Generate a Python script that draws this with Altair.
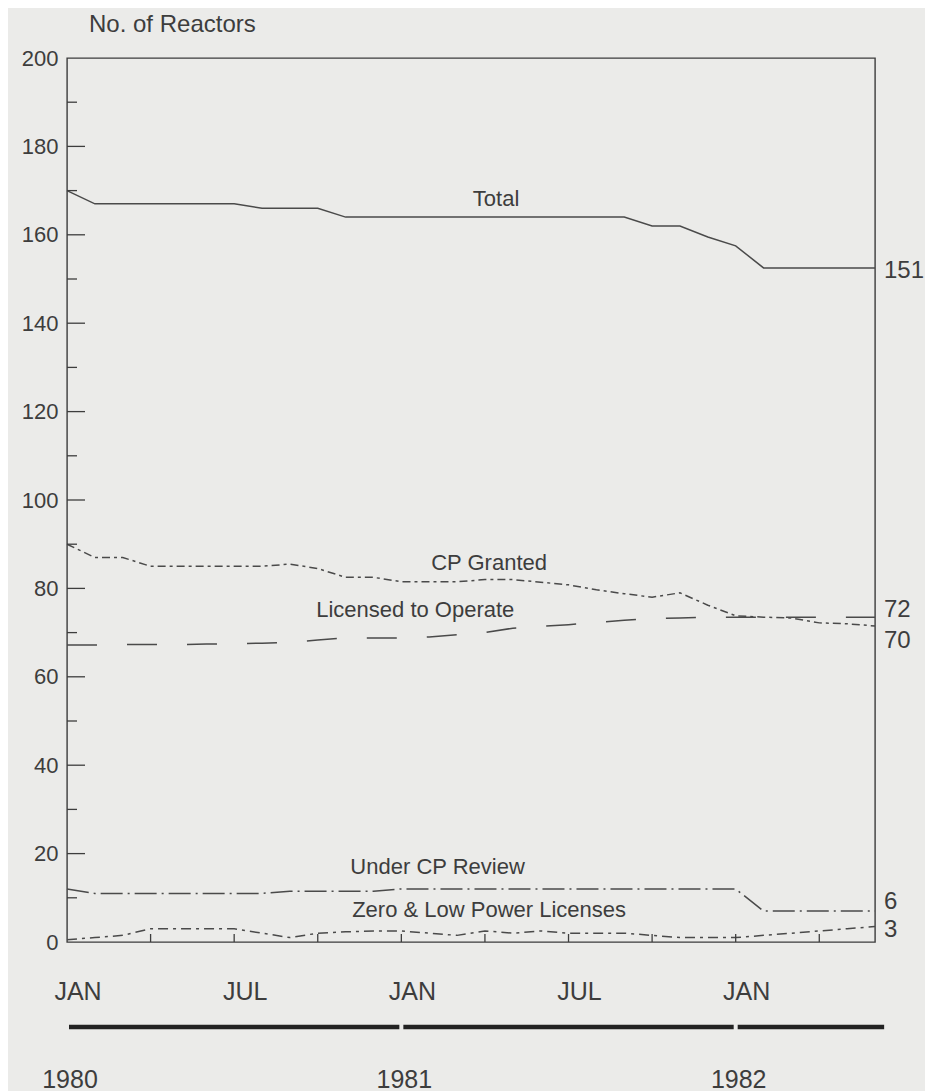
import altair as alt
import pandas as pd

# ---------------- data ----------------
months = list(range(30))  # 0 = Jan 1980 ... 29 = Jun 1982

total = [170, 167, 167, 167, 167, 167, 167, 166, 166, 166,
         164, 164, 164, 164, 164, 164, 164, 164, 164, 164,
         164, 162, 162, 159.5, 157.5, 152.5, 152.5, 152.5, 152.5, 152.5]
cp_granted = [90, 87, 87, 85, 85, 85, 85, 85, 85.5, 84.5,
              82.5, 82.5, 81.5, 81.5, 81.5, 82, 82, 81.4, 80.8, 79.7,
              78.8, 78, 79, 76.2, 73.8, 73.5, 73.3, 72.2, 72, 71.5]
licensed = [67.2, 67.2, 67.3, 67.3, 67.3, 67.4, 67.5, 67.6, 67.8, 68.3,
            68.8, 68.8, 68.8, 69, 69.5, 70, 71, 71.4, 71.8, 72.3,
            72.8, 73.2, 73.3, 73.5, 73.5, 73.5, 73.5, 73.5, 73.5, 73.5]
under_cp = [12, 11, 11, 11, 11, 11, 11, 11, 11.5, 11.5,
            11.5, 11.5, 12, 12, 12, 12, 12, 12, 12, 12,
            12, 12, 12, 12, 12, 7, 7, 7, 7, 7]
zero_low = [0.5, 1, 1.5, 3, 3, 3, 3, 2, 1, 2,
            2.3, 2.5, 2.5, 2, 1.5, 2.5, 2, 2.5, 2, 2,
            2, 1.5, 1, 1, 1, 1.5, 2, 2.5, 3, 3.5]

series_names = ["Total", "CP Granted", "Licensed to Operate",
                "Under CP Review", "Zero & Low Power Licenses"]
series_values = [total, cp_granted, licensed, under_cp, zero_low]

# in-chart series labels: (text, month, value)
label_text = series_names
label_month = [15.4, 15.15, 12.5, 13.3, 15.15]
label_value = [168, 85.7, 75.1, 17, 7.2]

# end-of-series values printed at the right
end_text = ["151", "72", "70", "6", "3"]
end_value = [151, 72, 70, 6, 3]

tick_months = [0, 6, 12, 18, 24]
tick_labels = ["JAN", "JUL", "JAN", "JUL", "JAN"]
quarter_months = [3, 6, 9, 12, 15, 18, 21, 24, 27]

years = ["1980", "1981", "1982"]
year_start = [0, 12, 24]
year_end = [12, 24, 29.4]

y_label_values = list(range(0, 201, 20))
y_minor_values = list(range(10, 200, 20))
y_major_values = list(range(20, 200, 20))

# ---------------- styles ----------------
W, H = 808, 884
FONT = "Liberation Sans"
INK = "#3d3d3d"
LINE = "#4a4a4a"
BG = "#ebebe9"

xs = alt.Scale(domain=[0, 29], nice=False, zero=False)
ys = alt.Scale(domain=[0, 200], nice=False)
y_axis = alt.Axis(values=y_label_values, title=None, ticks=False,
                  domain=False, grid=False, labelFontSize=22,
                  labelFont=FONT, labelColor=INK, labelPadding=9)

dashes = {
    "Total": None,
    "CP Granted": [8, 4, 3, 4],
    "Licensed to Operate": [30, 30],
    "Under CP Review": [22, 5, 2, 5],
    "Zero & Low Power Licenses": [10, 5, 3, 5],
}

layers = []

# series lines
for name, vals in zip(series_names, series_values):
    d = pd.DataFrame({"month": months, "value": vals})
    kw = dict(color=LINE, strokeWidth=1.5)
    if dashes[name]:
        kw["strokeDash"] = dashes[name]
    layers.append(
        alt.Chart(d).mark_line(**kw).encode(
            x=alt.X("month:Q", scale=xs, axis=None),
            y=alt.Y("value:Q", scale=ys, axis=y_axis))
    )

# inward y ticks (major / minor)
maj = pd.DataFrame({"value": y_major_values})
mnr = pd.DataFrame({"value": y_minor_values})
layers.append(alt.Chart(maj).mark_rule(color=INK, strokeWidth=1.3).encode(
    x=alt.value(0), x2=alt.value(18), y=alt.Y("value:Q", scale=ys, axis=y_axis)))
layers.append(alt.Chart(mnr).mark_rule(color=INK, strokeWidth=1.3).encode(
    x=alt.value(0), x2=alt.value(10), y=alt.Y("value:Q", scale=ys, axis=y_axis)))

# inward quarterly x ticks
q = pd.DataFrame({"month": quarter_months})
layers.append(alt.Chart(q).mark_rule(color=INK, strokeWidth=1.3).encode(
    x=alt.X("month:Q", scale=xs, axis=None), y=alt.value(H), y2=alt.value(H - 8)))

# series labels
lab = pd.DataFrame({"t": label_text, "month": label_month, "value": label_value})
layers.append(alt.Chart(lab).mark_text(font=FONT, fontSize=22, color=INK,
                                       align="center", baseline="middle").encode(
    x=alt.X("month:Q", scale=xs, axis=None),
    y=alt.Y("value:Q", scale=ys, axis=y_axis), text="t:N"))

# end values
end_dy = {"151": -4, "72": -14, "70": 8, "6": -13, "3": 1}
for t, v in zip(end_text, end_value):
    e = pd.DataFrame({"t": [t], "value": [v], "month": [months[-1]]})
    layers.append(alt.Chart(e).mark_text(font=FONT, fontSize=24, color=INK,
                                         align="left", baseline="middle",
                                         dx=9, dy=end_dy[t]).encode(
        x=alt.X("month:Q", scale=xs, axis=None),
        y=alt.Y("value:Q", scale=ys, axis=y_axis), text="t:N"))

# month labels
ml = pd.DataFrame({"month": tick_months, "t": tick_labels})
layers.append(alt.Chart(ml).mark_text(font=FONT, fontSize=25, color=INK,
                                      align="center", baseline="middle", dx=11).encode(
    x=alt.X("month:Q", scale=xs, axis=None), y=alt.value(H + 50), text="t:N"))

# thick year bar
yb = pd.DataFrame({"y": years, "s": year_start, "e": year_end})
layers.append(alt.Chart(yb).mark_rule(color="#222222", strokeWidth=4.5,
                                      xOffset=2, x2Offset=-2).encode(
    x=alt.X("s:Q", scale=xs, axis=None), x2="e:Q", y=alt.value(H + 85)))
layers.append(alt.Chart(yb).mark_text(font=FONT, fontSize=25, color=INK,
                                      align="center", baseline="middle", dx=3).encode(
    x=alt.X("s:Q", scale=xs, axis=None), y=alt.value(H + 138), text="y:N"))

chart = alt.layer(*layers).properties(
    width=W, height=H,
    autosize="none",
    background=BG,
    padding={"left": 59, "top": 50, "right": 50, "bottom": 150},
    title=alt.Title("No. of Reactors", anchor="start", frame="group", dx=22,
                    offset=10, fontSize=24, fontWeight="normal", font=FONT, color=INK),
).configure_view(
    stroke=INK, strokeWidth=1.4
)

chart.save("out.html", embed_options={"renderer": "svg", "actions": False})
